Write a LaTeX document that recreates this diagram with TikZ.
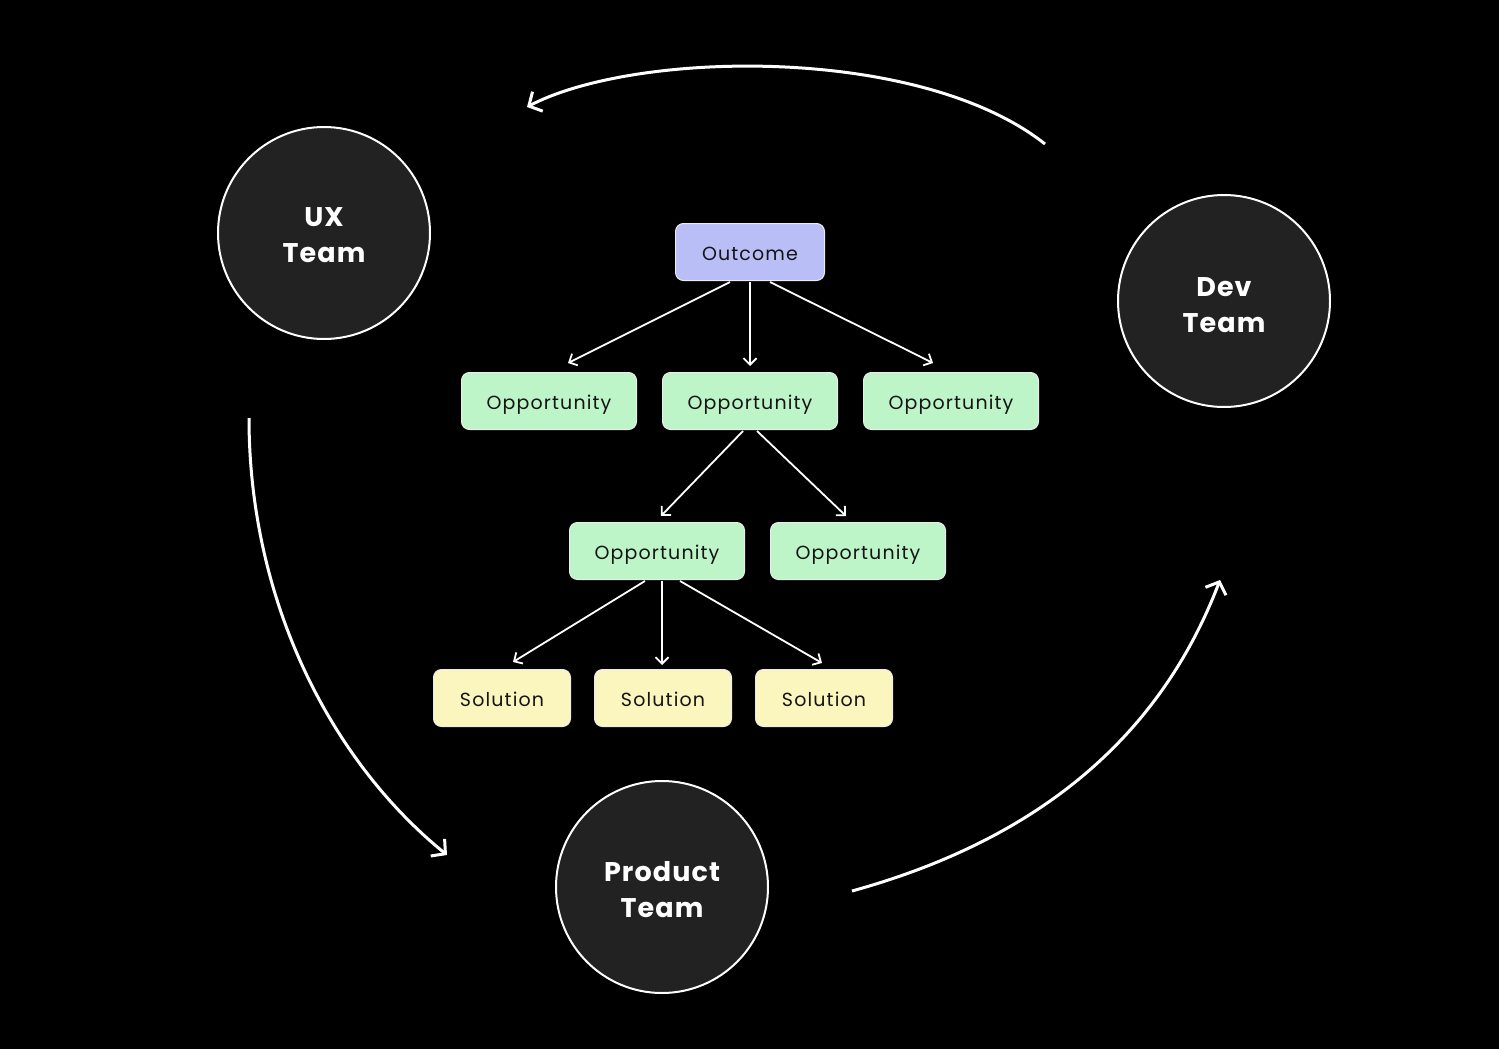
\documentclass[tikz,border=0pt]{standalone}
\usepackage{fontspec}
\setmainfont{Poppins}
\newfontfamily\boxfont[LetterSpace=6]{Poppins}
\newfontfamily\teamfont[LetterSpace=4]{Poppins Bold}
\usetikzlibrary{arrows.meta}
\definecolor{circfill}{HTML}{222222}
\definecolor{outfill}{HTML}{B9BEF7}
\definecolor{oppfill}{HTML}{BDF5C9}
\definecolor{solfill}{HTML}{FBF5BE}
\definecolor{txt}{HTML}{151515}
\begin{document}
\begin{tikzpicture}[x=1pt,y=-1pt,
  team/.style={circle,draw=white,line width=2pt,fill=circfill,minimum size=212pt,inner sep=0pt},
  teamtext/.style={text=white,font=\teamfont\fontsize{27}{36}\selectfont,align=center,inner sep=0pt},
  tbox/.style={rectangle,rounded corners=8pt,draw=white!85!gray,line width=1pt,minimum height=57pt,
    text=txt,font=\boxfont\fontsize{19}{22}\selectfont,inner sep=0pt,text height=16pt,text depth=0pt},
  outbox/.style={tbox,fill=outfill,minimum width=149pt},
  oppbox/.style={tbox,fill=oppfill,minimum width=175pt},
  solbox/.style={tbox,fill=solfill,minimum width=137pt},
  small/.style={draw=white,line width=1.8pt,-{Straight Barb[length=6.5pt,width=13pt,line width=1.8pt]}},
  big/.style={draw=white,line width=3pt,-{Straight Barb[length=10pt,width=22pt,line width=3pt]}}
]
\fill[black] (0,0) rectangle (1499,1049);
\useasboundingbox (0,0) rectangle (1499,1049);

\node[team] (ux) at (324,233) {};
\node[teamtext] (uxt) at ([yshift=-2pt]ux.center) {UX\\Team};
\node[team] (dev) at (1224,301) {};
\node[teamtext] (devt) at ([yshift=-4pt]dev.center) {Dev\\Team};
\node[team] (prod) at (662,887) {};
\node[teamtext] (prodt) at ([yshift=-3pt]prod.center) {Product\\Team};

\node[outbox] (out) at (750,252) {Outcome};
\node[oppbox] (o1) at (549,401) {Opportunity};
\node[oppbox] (o2) at (750,401) {Opportunity};
\node[oppbox] (o3) at (951,401) {Opportunity};
\node[oppbox] (o21) at (657,551) {Opportunity};
\node[oppbox] (o22) at (858,551) {Opportunity};
\node[solbox] (s1) at (502,698) {Solution};
\node[solbox] (s2) at (663,698) {Solution};
\node[solbox] (s3) at (824,698) {Solution};

\coordinate (oa1) at (730,282); \coordinate (ta1) at (568,363);
\coordinate (oa2) at (750,282); \coordinate (ta2) at (750,366);
\coordinate (oa3) at (770,282); \coordinate (ta3) at (933,363);
\coordinate (pb1) at (743,431); \coordinate (tb1) at (661,516);
\coordinate (pb2) at (757,431); \coordinate (tb2) at (846,516);
\coordinate (pc1) at (645,581); \coordinate (tc1) at (513,662);
\coordinate (pc2) at (662,581); \coordinate (tc2) at (662,665);
\coordinate (pc3) at (680,581); \coordinate (tc3) at (822,663);

\draw[small] (oa1) -- (ta1);
\draw[small] (oa2) -- (ta2);
\draw[small] (oa3) -- (ta3);
\draw[small] (pb1) -- (tb1);
\draw[small] (pb2) -- (tb2);
\draw[small] (pc1) -- (tc1);
\draw[small] (pc2) -- (tc2);
\draw[small] (pc3) -- (tc3);

\coordinate (a1s) at (1045,144); \coordinate (a1e) at (527,107);
\coordinate (a2s) at (249,418); \coordinate (a2e) at (447,855);
\coordinate (a3s) at (852,891); \coordinate (a3e) at (1220,580);
\draw[big] (a1s) .. controls (920,45) and (636,50) .. (a1e);
\draw[big] (a2s) .. controls (249,600) and (330,760) .. (a2e);
\draw[big] (a3s) .. controls (1000,850) and (1149,766) .. (a3e);
\end{tikzpicture}
\end{document}
